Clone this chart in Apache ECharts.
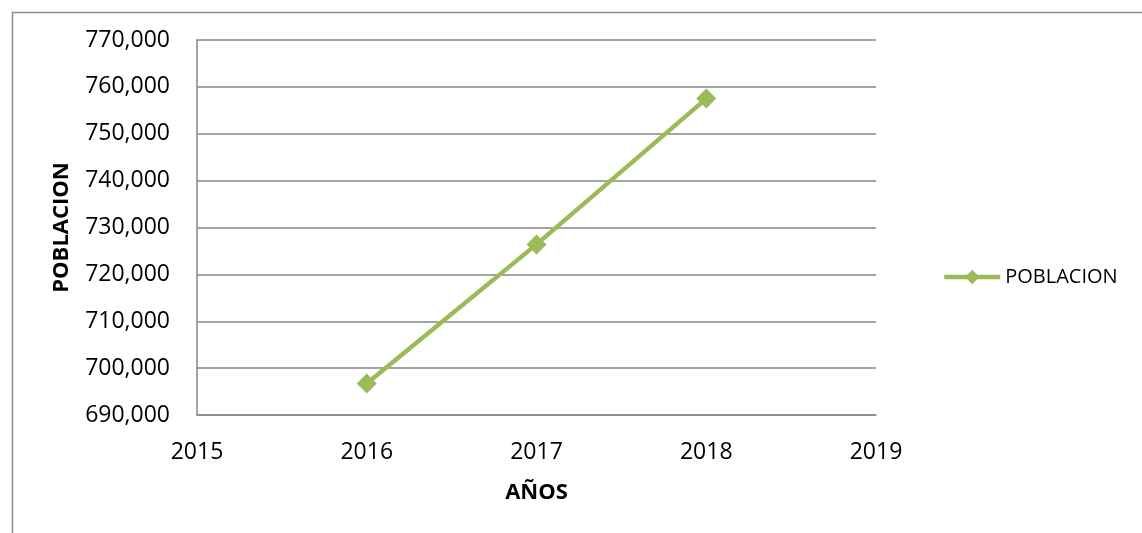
<!DOCTYPE html>
<html><head><meta charset="utf-8">
<script src="https://cdn.jsdelivr.net/npm/echarts@6/dist/echarts.min.js"></script>
<style>html,body{margin:0;padding:0;background:#fff}#c{width:1142px;height:533px}</style>
</head><body><div id="c"></div>
<script>
const years = [2016, 2017, 2018];
const poblacion = [696700, 726400, 757500];
const seriesName = 'POBLACION';
const xAxisTitle = 'AÑOS';
const yAxisTitle = 'POBLACION';

const chart = echarts.init(document.getElementById('c'), null, {renderer: 'canvas'});
const font = '"Open Sans", "Liberation Sans", sans-serif';
chart.setOption({
  animation: false,
  backgroundColor: '#fff',
  graphic: [{
    type: 'rect', left: 10, top: 10,
    shape: {width: 1140, height: 540},
    style: {fill: 'none', stroke: '#8c8c8c', lineWidth: 1.5}
  }],
  grid: {left: 197, top: 40, width: 679, height: 375, containLabel: false},
  legend: {
    left: 942, top: 267, padding: 0,
    itemWidth: 56, itemHeight: 18, itemGap: 4,
    lineStyle: {width: 4.5},
    textStyle: {fontFamily: font, fontSize: 20, color: '#000'},
    data: [seriesName]
  },
  xAxis: {
    type: 'value', min: 2015, max: 2019, interval: 1,
    name: xAxisTitle, nameLocation: 'middle', nameGap: 67,
    nameTextStyle: {fontFamily: font, fontSize: 22, fontWeight: 'bold', color: '#000'},
    axisLine: {show: true, lineStyle: {color: '#868686', width: 1.5}},
    axisTick: {show: false},
    splitLine: {show: false},
    axisLabel: {fontFamily: font, fontSize: 23, color: '#000', margin: 26,
      formatter: v => String(v)}
  },
  yAxis: {
    type: 'value', min: 690000, max: 770000, interval: 10000,
    name: yAxisTitle, nameLocation: 'middle', nameGap: 124, nameRotate: 90,
    nameTextStyle: {fontFamily: font, fontSize: 22, fontWeight: 'bold', color: '#000'},
    axisLine: {show: true, lineStyle: {color: '#868686', width: 1.5}},
    axisTick: {show: false},
    splitLine: {show: true, lineStyle: {color: '#868686', width: 1.5}},
    axisLabel: {fontFamily: font, fontSize: 23, color: '#000', margin: 27,
      formatter: v => v.toLocaleString('en-US')}
  },
  series: [{
    name: seriesName, type: 'line',
    data: years.map((y, i) => [y, poblacion[i]]),
    symbol: 'diamond', symbolSize: 20,
    itemStyle: {color: '#9BBB59'},
    lineStyle: {color: '#9BBB59', width: 4.5}
  }]
});
</script></body></html>
